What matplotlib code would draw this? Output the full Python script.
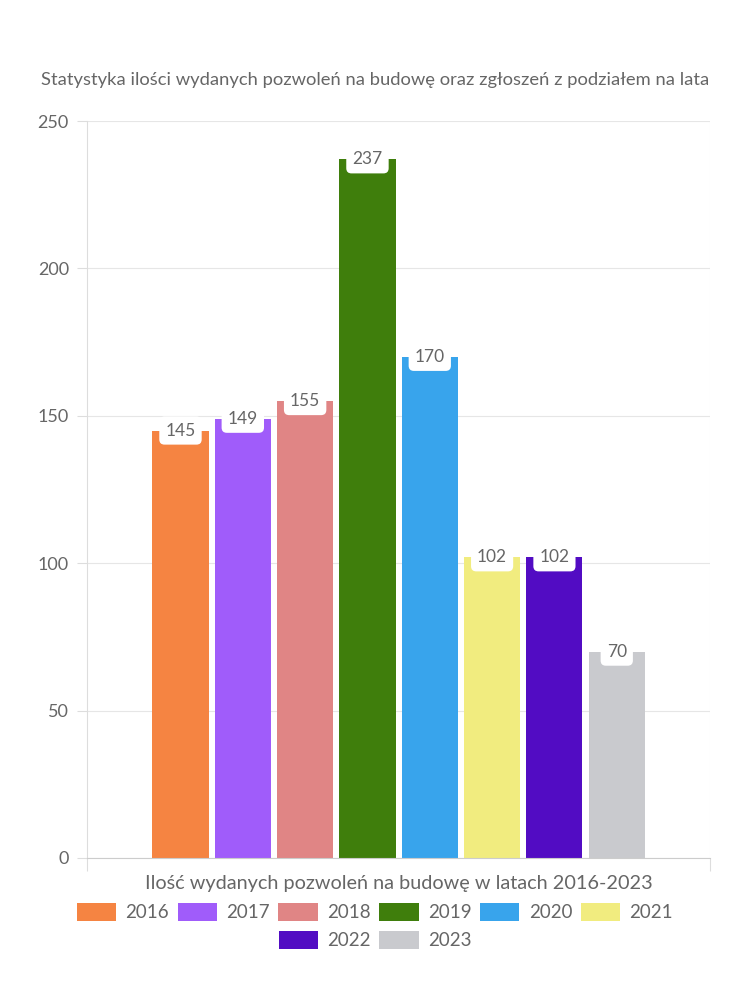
import matplotlib
matplotlib.use("Agg")
import matplotlib.pyplot as plt
from matplotlib.patches import Patch

years = ["2016", "2017", "2018", "2019", "2020", "2021", "2022", "2023"]
values = [145, 149, 155, 237, 170, 102, 102, 70]
colors = ["#F58442", "#A05CFA", "#E08585", "#3F7E0C",
          "#38A4EC", "#F1EC7F", "#520CC3", "#C9CACE"]

TXT = "#666666"
plt.rcParams['font.family'] = ['Lato', 'DejaVu Sans']

fig = plt.figure(figsize=(7.5, 10), dpi=100)
ax = fig.add_axes([0.116, 0.142, 0.831, 0.737])

n = len(values)
slot = 0.8 / n
for i, (v, c) in enumerate(zip(values, colors)):
    x = -0.4 + (i + 0.5) * slot
    ax.bar(x, v, width=slot * 0.9, color=c, zorder=2)
    ax.text(x, v, str(v), ha="center", va="center", fontsize=12.5, color=TXT,
            zorder=3,
            bbox=dict(boxstyle="round,pad=0.35,rounding_size=0.3",
                      fc="white", ec="none"))

ax.set_xlim(-0.5, 0.5)
ax.set_ylim(0, 250)
ax.set_yticks([0, 50, 100, 150, 200, 250])
ax.set_xticks([-0.5, 0.5])
ax.set_xticklabels(["", ""])
ax.tick_params(axis="y", length=7, color="#dddddd", labelcolor=TXT,
               labelsize=13, pad=6)
ax.tick_params(axis="x", length=9, color="#dddddd")
ax.grid(axis="y", color="#e6e6e6", linewidth=0.8, zorder=0)
for s in ["top", "right"]:
    ax.spines[s].set_visible(False)
ax.spines["left"].set_color("#dddddd")
ax.spines["bottom"].set_color("#cccccc")
ax.axvline(0.5, color="#eeeeee", linewidth=0.8, zorder=0)

ax.set_xlabel("Ilość wydanych pozwoleń na budowę w latach 2016-2023",
              fontsize=14.3, color=TXT, labelpad=0)
fig.text(0.5, 0.92, "Statystyka ilości wydanych pozwoleń na budowę oraz zgłoszeń z podziałem na lata",
         ha="center", va="center", fontsize=13.2, color=TXT)

handles = [Patch(facecolor=c, edgecolor="none") for c in colors]
leg_kw = dict(frameon=False, fontsize=13.5, handlelength=2.1,
              handleheight=1.1, handletextpad=0.5, columnspacing=0.45,
              labelcolor=TXT)
fig.legend(handles[:6], years[:6], loc="center", ncol=6,
           bbox_to_anchor=(0.5, 0.088), **leg_kw)
fig.legend(handles[6:], years[6:], loc="center", ncol=2,
           bbox_to_anchor=(0.5, 0.060), **leg_kw)

fig.savefig("out.png")
